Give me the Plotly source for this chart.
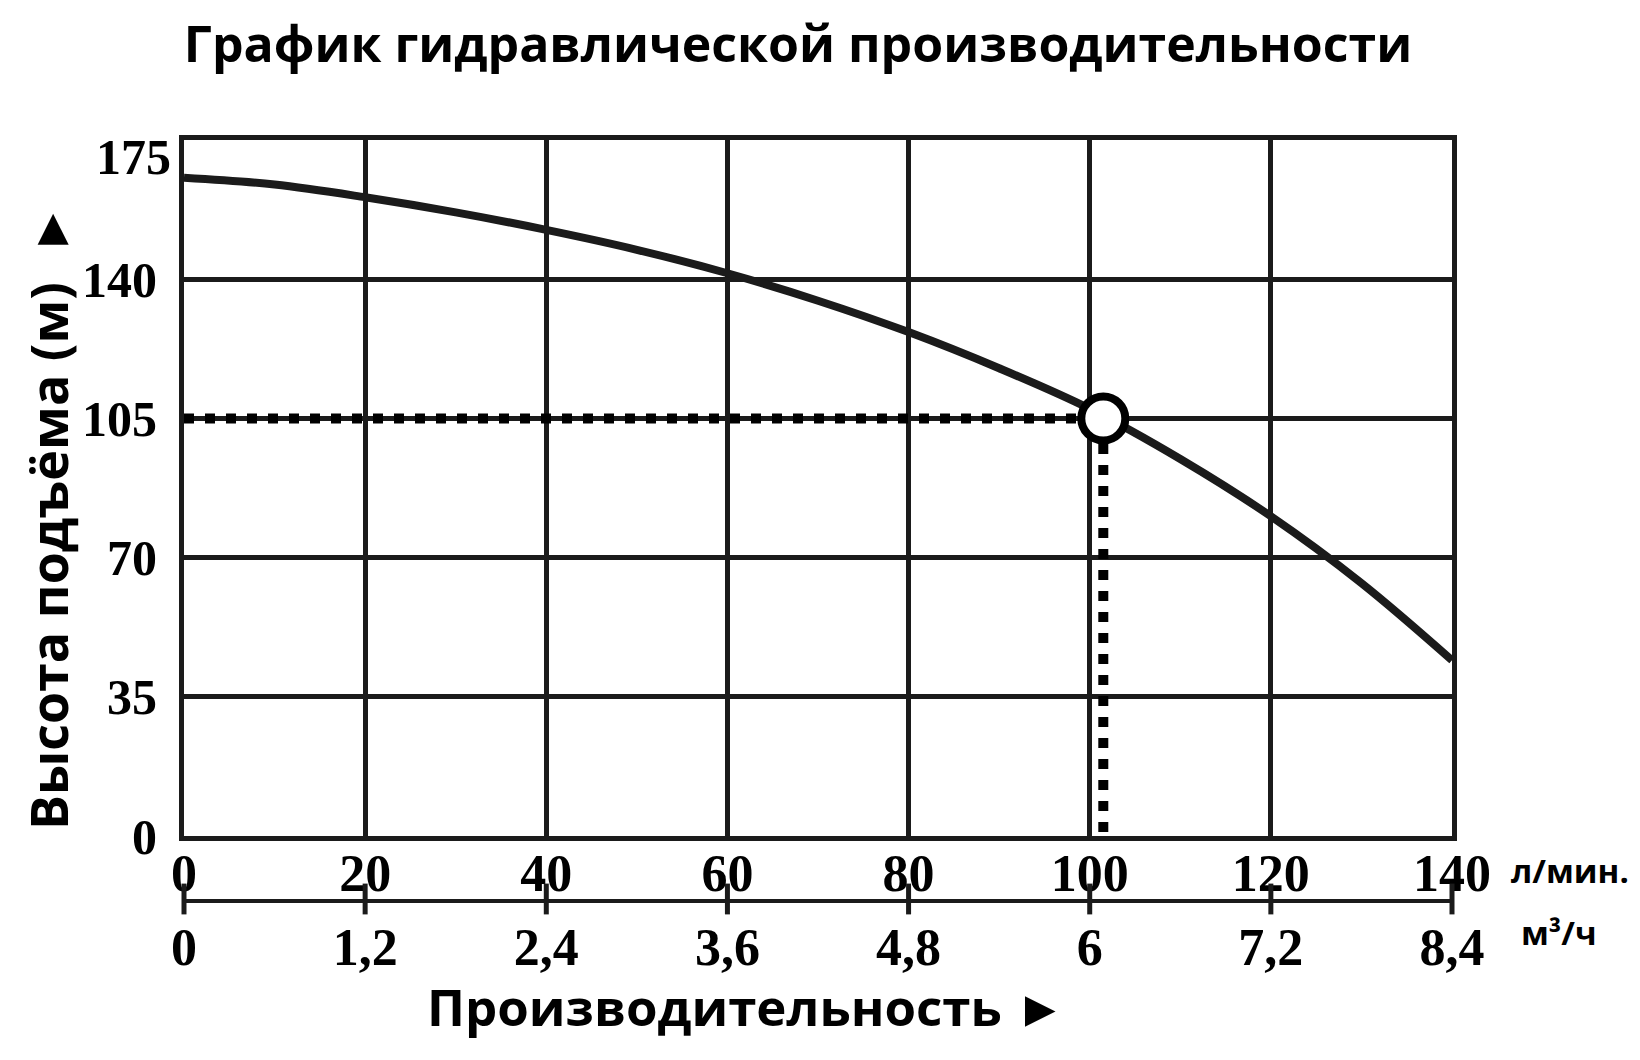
import plotly.graph_objects as go

# ---- data ----
flow_lpm = [0, 10, 20, 30, 40, 50, 60, 70, 80, 90, 100, 110, 120, 130, 140]
head_m = [165.5, 163.8, 160.6, 156.8, 152.4, 147.4, 141.5, 134.6, 126.7, 117.6, 107.4, 94.8, 80.4, 63.6, 44.2]

x_ticks = [0, 20, 40, 60, 80, 100, 120, 140]
y_ticks = [0, 35, 70, 105, 140]
y_top_tick = [175]
m3h_ticks = [0, 1.2, 2.4, 3.6, 4.8, 6, 7.2, 8.4]
m3h_labels = ["0", "1,2", "2,4", "3,6", "4,8", "6", "7,2", "8,4"]

op_flow = 101.5
op_head = 105
guide_x = [0, op_flow, op_flow]
guide_y = [op_head, op_head, 0]

title_text = "График гидравлической производительности"
ytitle_text = "Высота подъёма (м)  ►"
xtitle_text = "Производительность ►"
unit_lpm = "л/мин."
unit_m3h = "м³/ч"

INK = "#1b1b1b"
SERIF = "Liberation Serif"
SANS = "Open Sans"

fig = go.Figure()

fig.add_trace(go.Scatter(
    x=flow_lpm, y=head_m, mode="lines",
    line=dict(color=INK, width=8, shape="spline", smoothing=1.0),
    xaxis="x", yaxis="y", hoverinfo="skip", showlegend=False))

fig.add_trace(go.Scatter(
    x=guide_x, y=guide_y, mode="lines",
    line=dict(color="#000000", width=10, dash="10px,11px"),
    xaxis="x", yaxis="y", hoverinfo="skip", showlegend=False))

fig.add_trace(go.Scatter(
    x=[op_flow], y=[op_head], mode="markers",
    marker=dict(symbol="circle", size=44, color="white",
                line=dict(color="#000000", width=8)),
    xaxis="x", yaxis="y", hoverinfo="skip", showlegend=False, cliponaxis=False))

# secondary axis tick crosses
fig.add_trace(go.Scatter(
    x=m3h_ticks, y=[0] * len(m3h_ticks), mode="markers",
    marker=dict(symbol="line-ns", size=22, line=dict(color=INK, width=5)),
    xaxis="x2", yaxis="y2", hoverinfo="skip", showlegend=False, cliponaxis=False))

# invisible trace to activate the top-label axis
fig.add_trace(go.Scatter(
    x=[None], y=[None], mode="markers", xaxis="x", yaxis="y3",
    hoverinfo="skip", showlegend=False))

H = 1060
W = 1640
ml, mr, mt, mb = 176, 196, 132, 100
ph = H - mt - mb
pw = W - ml - mr

def py(px_y):
    return (H - mb - px_y) / ph

def px(px_x):
    return (px_x - ml) / pw

tickfont_y = dict(family=SERIF, size=50, color="#000", weight=700)

fig.update_layout(
    width=W, height=H, autosize=False,
    margin=dict(l=ml, r=mr, t=mt, b=mb),
    paper_bgcolor="white", plot_bgcolor="white",
    separators=", ",
    xaxis=dict(
        range=[0, 140], tickvals=x_ticks, showgrid=True, gridcolor=INK, gridwidth=4.5,
        showline=True, linecolor=INK, linewidth=5, mirror=True, zeroline=False,
        ticks="", ticklabelstandoff=-12,
        tickfont=dict(family=SERIF, size=52, color="#000", weight=700),
        anchor="y", domain=[0, 1]),
    yaxis=dict(
        range=[0, 175], tickvals=y_ticks, showgrid=True, gridcolor=INK, gridwidth=4.5,
        showline=True, linecolor=INK, linewidth=5, mirror=True, zeroline=False,
        ticks="", ticklabelstandoff=12, tickfont=tickfont_y,
        domain=[py(828), 1], anchor="x"),
    yaxis3=dict(
        range=[0, 175], tickvals=y_top_tick, overlaying="y", side="left",
        showgrid=False, showline=False, zeroline=False, ticks="",
        ticklabelstandoff=12, ticklabelshift=16, tickfont=tickfont_y, anchor="x"),
    xaxis2=dict(
        range=[0, 8.4], tickvals=m3h_ticks, ticktext=m3h_labels, showgrid=False,
        showline=True, linecolor=INK, linewidth=4, zeroline=False,
        ticks="", ticklabelstandoff=0,
        tickfont=dict(family=SERIF, size=52, color="#000", weight=700),
        anchor="y2", domain=[0, 1]),
    yaxis2=dict(
        range=[0, 1], domain=[py(891), py(881)], visible=False, anchor="x2"),
    title=dict(
        text=title_text, xref="container", yref="container",
        x=790 / W, y=1 - 36 / H, xanchor="center", yanchor="middle",
        font=dict(family=SANS, size=50, color="#000", weight=700)),
    annotations=[
        dict(text=ytitle_text, xref="paper", yref="paper", x=px(39), y=py(509),
             textangle=-90, showarrow=False, xanchor="center", yanchor="middle",
             font=dict(family=SANS, size=52, color="#000", weight=700)),
        dict(text=xtitle_text, xref="paper", yref="paper", x=px(738), y=py(998),
             showarrow=False, xanchor="center", yanchor="middle",
             font=dict(family=SANS, size=51, color="#000", weight=700)),
        dict(text=unit_lpm, xref="paper", yref="paper", x=px(1501), y=py(862),
             showarrow=False, xanchor="left", yanchor="middle",
             font=dict(family=SANS, size=33, color="#000", weight=700)),
        dict(text=unit_m3h, xref="paper", yref="paper", x=px(1511), y=py(924),
             showarrow=False, xanchor="left", yanchor="middle",
             font=dict(family=SANS, size=33, color="#000", weight=700)),
    ],
)

fig.write_html("out.html")
